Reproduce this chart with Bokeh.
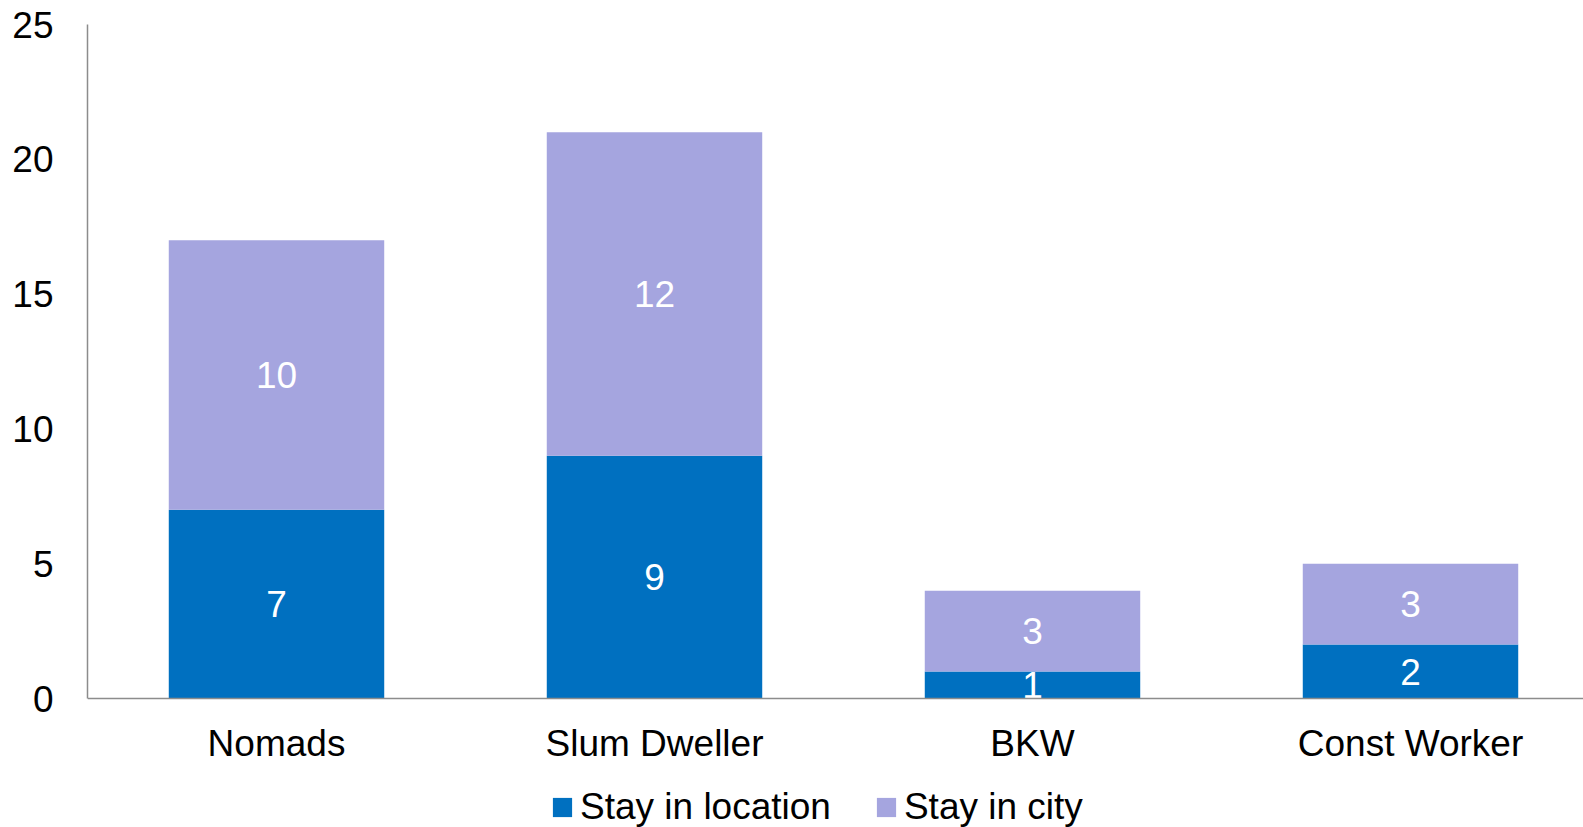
import numpy as np
from bokeh.plotting import figure
from bokeh.models import ColumnDataSource, Range1d, FixedTicker, Legend, LegendItem
from bokeh.core.properties import value
from bokeh.embed import file_html
from bokeh.resources import INLINE

categories = ["Nomads", "Slum Dweller", "BKW", "Const Worker"]
stay_in_location = [7, 9, 1, 2]
stay_in_city = [10, 12, 3, 3]
series_names = ["Stay in location", "Stay in city"]
y_ticks = [0, 5, 10, 15, 20, 25]

colors = ["#0070C0", "#A5A5DF"]
FONT = "Liberation Sans"
FS = "37px"

W, H = 1583, 827
LEFT, TOP, ZERO_PX = 87, 24, 698
ymax = 25.0
ystart = -(H - ZERO_PX) / (ZERO_PX - TOP) * ymax

xpos = np.arange(len(categories)) + 0.5
src = ColumnDataSource(dict(x=xpos, loc=stay_in_location, city=stay_in_city))

p = figure(width=W, height=H, output_backend="svg", toolbar_location=None,
           x_range=Range1d(0, (W - LEFT) / 378.0), y_range=Range1d(ystart, ymax),
           min_border_left=LEFT, min_border_top=TOP, min_border_right=0, min_border_bottom=0,
           x_axis_location=None)
p.outline_line_color = None
p.xgrid.grid_line_color = None
p.ygrid.grid_line_color = None

rs = p.vbar_stack(["loc", "city"], x="x", width=0.57, color=colors, line_color=None, source=src)

# data labels
loc_arr = np.array(stay_in_location, dtype=float)
city_arr = np.array(stay_in_city, dtype=float)
lab = ColumnDataSource(dict(
    x=np.concatenate([xpos, xpos]),
    y=np.concatenate([loc_arr / 2, loc_arr + city_arr / 2]),
    t=[str(v) for v in stay_in_location + stay_in_city]))
p.text(x="x", y="y", text="t", source=lab, text_color="white", text_font=value(FONT),
       text_font_size=FS, text_align="center", text_baseline="middle")

# x axis line at zero and category labels below it
p.segment(x0=[0], y0=[0], x1=[(W - LEFT) / 378.0], y1=[0], line_color="#8C8C8C", line_width=1.5)
cat_src = ColumnDataSource(dict(x=xpos, y=np.zeros(len(categories)), t=categories))
p.text(x="x", y="y", text="t", source=cat_src, text_color="black", text_font=value(FONT),
       text_font_size=FS, text_align="center", text_baseline="top", y_offset=24)

ax = p.yaxis[0]
ax.axis_line_color = "#8C8C8C"
ax.axis_line_width = 1.5
ax.major_tick_line_color = None
ax.minor_tick_line_color = None
ax.major_label_text_font = FONT
ax.major_label_text_font_size = FS
ax.major_label_text_color = "black"
ax.bounds = (0, ymax)
ax.ticker = FixedTicker(ticks=y_ticks)
ax.major_label_standoff = 28

legend = Legend(items=[LegendItem(label=series_names[i], renderers=[rs[i]]) for i in range(2)],
                orientation="horizontal", location=(463, -1),
                label_text_font=FONT, label_text_font_size=FS, label_text_color="black",
                glyph_width=24, glyph_height=24, label_standoff=6, spacing=43,
                padding=0, margin=0, border_line_color=None, background_fill_alpha=0)
p.add_layout(legend, "center")

open("out.html", "w").write(file_html(p, INLINE))
